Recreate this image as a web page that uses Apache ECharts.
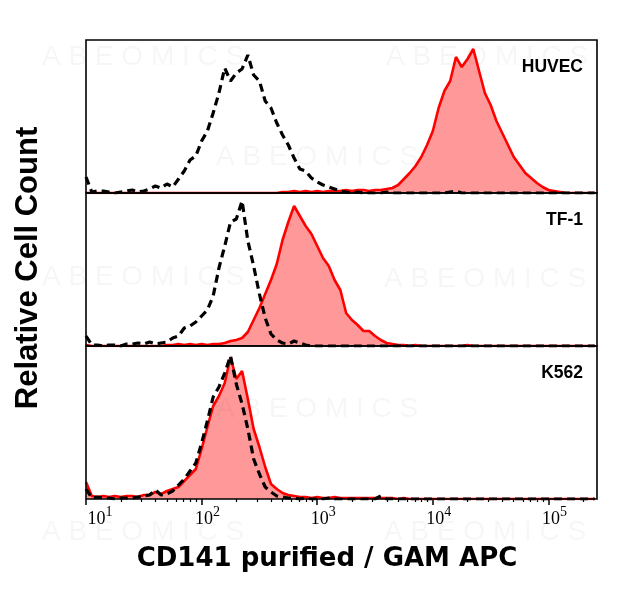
<!DOCTYPE html>
<html>
<head>
<meta charset="utf-8">
<script src="https://cdn.jsdelivr.net/npm/echarts@6/dist/echarts.min.js"></script>
<style>
html,body{margin:0;padding:0;background:#fff;}
#c{width:618px;height:589px;}
</style>
</head>
<body>
<div id="c"></div>
<script>
// Bin centres on the fluorescence axis, in log10 units
const binCenters = [
  1.00,1.05,1.10,1.15,1.20,1.25,1.30,1.35,1.40,1.45,
  1.50,1.55,1.60,1.65,1.70,1.75,1.80,1.85,1.90,1.95,
  2.00,2.05,2.10,2.15,2.20,2.25,2.30,2.35,2.40,2.45,
  2.50,2.55,2.60,2.65,2.70,2.75,2.80,2.85,2.90,2.95,
  3.00,3.05,3.10,3.15,3.20,3.25,3.30,3.35,3.40,3.45,
  3.50,3.55,3.60,3.65,3.70,3.75,3.80,3.85,3.90,3.95,
  4.00,4.05,4.10,4.15,4.20,4.25,4.30,4.35,4.40,4.45,
  4.50,4.55,4.60,4.65,4.70,4.75,4.80,4.85,4.90,4.95,
  5.00,5.05,5.10,5.15,5.20,5.25,5.30,5.35,5.40
];

// Panel names
const panelNames = ['HUVEC', 'TF-1', 'K562'];

// Relative cell counts (isotype control = dashed black, CD141 = red filled)
const huvecIso = [
  16,1,2,2,1,0,1,2,3,1,
  2,4,7,5,9,6,14,22,33,37,
  52,62,80,100,125,112,120,124,138,118,
  112,92,85,70,58,48,35,24,22,15,
  11,8,6,4,2,1,0,1,0,0,
  0,0,1,0,0,0,0,0,0,0,
  0,0,0,1,2,0,0,0,0,0,
  0,0,0,0,0,0,0,0,0,0,
  0,0,0,0,0,0,0,0,0
];
const huvecCD141 = [
  0,0,0,0,0,0,0,0,0,0,
  0,0,0,0,0,0,0,0,0,0,
  0,0,0,0,0,0,0,0,0,0,
  0,0,0,0,1,1,2,1,2,1,
  2,1,2,2,2,3,2,3,3,2,
  3,3,4,5,8,14,20,27,36,48,
  62,85,102,112,136,126,134,144,122,100,
  88,72,60,48,36,28,20,15,10,6,
  3,2,1,0,0,0,0,0,0
];
const tf1Iso = [
  10,1,1,0,1,1,0,2,2,3,
  2,4,2,3,4,8,10,18,20,24,
  30,36,50,78,100,124,127,145,105,80,
  52,28,12,6,3,2,5,3,1,0,
  0,0,0,0,0,0,0,0,0,0,
  0,0,0,0,0,0,0,0,0,0,
  0,0,0,0,0,0,0,0,0,0,
  0,0,0,0,0,0,0,0,0,0,
  0,0,0,0,0,0,0,0,0
];
const tf1CD141 = [
  1,0,0,0,0,0,0,0,0,0,
  0,0,0,0,1,1,2,1,2,1,
  2,1,2,2,3,5,6,8,14,26,
  38,52,66,82,106,124,140,130,120,112,
  100,88,80,66,56,33,26,21,15,15,
  10,6,3,2,1,1,0,1,0,0,
  0,0,0,0,0,0,1,0,0,0,
  0,0,0,0,0,0,0,0,0,0,
  0,0,0,0,0,0,0,0,0
];
const k562Iso = [
  10,1,2,1,1,0,1,1,1,2,
  3,4,9,4,5,8,14,20,28,36,
  56,78,102,112,126,143,115,95,70,40,
  25,12,7,3,2,1,1,0,1,0,
  0,0,1,0,0,0,0,0,0,0,
  0,3,0,0,0,0,0,0,0,0,
  0,0,0,0,0,0,0,0,0,0,
  0,0,0,0,0,0,0,0,0,0,
  0,0,0,0,0,0,0,0,0
];
const k562CD141 = [
  17,3,2,3,2,3,2,3,3,2,
  4,4,7,5,8,10,12,18,24,30,
  50,72,93,103,116,142,120,128,100,70,
  52,32,15,10,6,4,3,2,2,1,
  2,1,1,2,1,1,1,1,1,1,
  1,1,1,1,0,1,0,0,0,0,
  0,0,0,0,0,0,0,0,0,0,
  0,0,0,0,0,0,0,0,0,0,
  0,0,0,0,0,0,0,0,0
];

// Axis ticks (log10 decades) and minor tick multipliers
const decadeTicks = [1, 2, 3, 4, 5];
const minorMultipliers = [2, 3, 4, 5, 6, 7, 8, 9];
const axisMin = 1, axisMax = 5.42;
const countMax = 153;

const xTitle = 'CD141 purified / GAM APC';
const yTitle = 'Relative Cell Count';
const watermark = 'A B E O M I C S';

const isoSets = [huvecIso, tf1Iso, k562Iso];
const posSets = [huvecCD141, tf1CD141, k562CD141];

// layout
const L = 86, R = 21, panelTops = [40, 193, 346], panelH = 153, W = 618;

const minorVals = [];
decadeTicks.forEach(d => minorMultipliers.forEach(m => {
  const v = d + Math.log10(m);
  if (v < axisMax) minorVals.push(v);
}));

const zip = arr => binCenters.map((x, i) => [x, arr[i]]);

const grids = panelTops.map(t => ({left: L, right: R, top: t, height: panelH, show: false}));

const serif = '"Liberation Serif", "DejaVu Serif", serif';
const xAxes = panelTops.map((t, i) => {
  const bottom = i === 2;
  return {
    gridIndex: i, type: 'value', min: axisMin, max: axisMax, position: 'bottom',
    axisLine: {show: false},
    splitLine: {show: false},
    axisTick: {show: bottom, customValues: decadeTicks, length: 6, inside: false,
      lineStyle: {color: '#000', width: 1.5}},
    axisLabel: {
      show: bottom, customValues: decadeTicks, margin: 6,
      formatter: (v) => (v === decadeTicks[0] ? '{q| }' : '{p| }') + '{b|10}{s|' + Math.round(v) + '}',
      rich: {
        p: {width: 12, fontSize: 10},
        q: {width: 28, fontSize: 10},
        b: {fontFamily: serif, fontSize: 18, lineHeight: 23, verticalAlign: 'bottom', color: '#000'},
        s: {fontFamily: serif, fontSize: 14, lineHeight: 14, verticalAlign: 'top', color: '#000'}
      }
    }
  };
});
// minor ticks on the bottom axis
xAxes.push({
  gridIndex: 2, type: 'value', min: axisMin, max: axisMax, position: 'bottom',
  axisLine: {show: false}, splitLine: {show: false}, axisLabel: {show: false},
  axisTick: {show: true, customValues: minorVals, length: 3, lineStyle: {color: '#000', width: 1.2}}
});

const yAxes = panelTops.map((t, i) => ({gridIndex: i, type: 'value', min: 0, max: countMax, show: false}));

const series = [];
panelTops.forEach((t, i) => {
  series.push({
    type: 'line', xAxisIndex: i, yAxisIndex: i, data: zip(posSets[i]),
    showSymbol: false, symbol: 'none', silent: true, z: 2,
    lineStyle: {color: '#ff0000', width: 2.6},
    areaStyle: {color: '#ff9999', opacity: 1}
  });
  series.push({
    type: 'line', xAxisIndex: i, yAxisIndex: i, data: zip(isoSets[i]),
    showSymbol: false, symbol: 'none', silent: true, z: 3,
    lineStyle: {color: '#000', width: 3.2, type: [8, 5]}
  });
});

const graphics = [];
// watermark
[[42,57],[386,57],[216,157],[42,277],[384,279],[216,409],[42,532],[384,532]].forEach(p => {
  graphics.push({type: 'text', x: p[0], y: p[1], silent: true, z: 50,
    style: {text: watermark, font: '28px "Liberation Sans", Arial, sans-serif', fill: 'rgba(0,0,0,0.035)', align: 'left', verticalAlign: 'middle'}});
});
// panel frames drawn on top
panelTops.forEach((t, i) => {
  graphics.push({type: 'rect', z: 100, silent: true,
    shape: {x: L, y: t, width: W - L - R, height: panelH},
    style: {fill: null, stroke: '#000', lineWidth: 1.6}});
  graphics.push({type: 'text', z: 101, silent: true, x: W - R - 14, y: t + 27,
    style: {text: panelNames[i], font: 'bold 17.5px "Liberation Sans", Arial, sans-serif', fill: '#000', align: 'right', verticalAlign: 'middle'}});
});
graphics.push({type: 'text', z: 101, silent: true, x: 28, y: 268, rotation: Math.PI / 2,
  style: {text: yTitle, font: 'bold 31px "Liberation Sans", Arial, sans-serif', fill: '#000', align: 'center', verticalAlign: 'middle'}});
graphics.push({type: 'text', z: 101, silent: true, x: 327, y: 559,
  style: {text: xTitle, font: 'bold 26px "DejaVu Sans", Verdana, sans-serif', fill: '#000', align: 'center', verticalAlign: 'middle'}});

const chart = echarts.init(document.getElementById('c'));
chart.setOption({
  animation: false,
  backgroundColor: '#fff',
  grid: grids,
  xAxis: xAxes,
  yAxis: yAxes,
  series: series,
  graphic: graphics
});
</script>
</body>
</html>
